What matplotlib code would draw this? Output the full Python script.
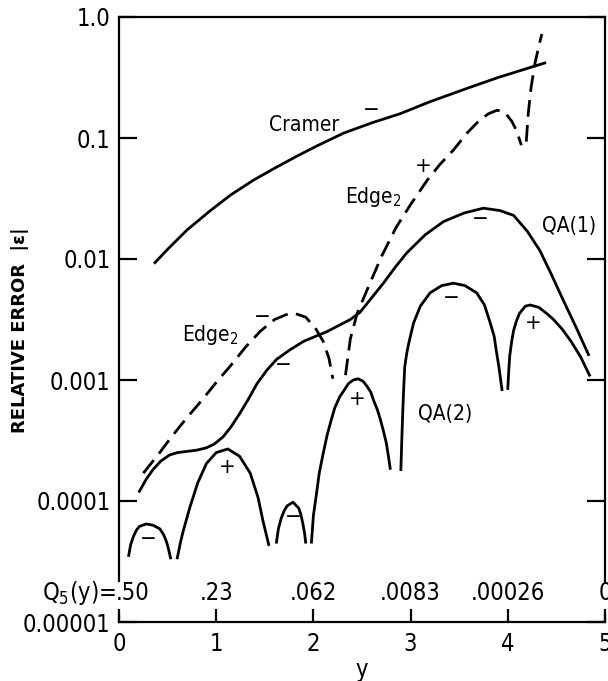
import numpy as np
import matplotlib
matplotlib.use('Agg')
import matplotlib.pyplot as plt
from matplotlib.ticker import NullLocator
import matplotlib.transforms as mtransforms

plt.rcParams['font.family'] = ['DejaVu Sans']
plt.rcParams['font.stretch'] = 'condensed'
plt.rcParams['mathtext.default'] = 'regular'
plt.rcParams['lines.scale_dashes'] = False

# values, y given as log10 |error|
cramer_x = [0.37, 0.50, 0.70, 0.94, 1.15, 1.38, 1.60, 1.83, 2.05, 2.31, 2.60, 2.89, 3.20, 3.58, 3.90, 4.26, 4.38]
cramer_lg = [-2.03, -1.92, -1.76, -1.60, -1.47, -1.35, -1.25, -1.15, -1.06, -0.96, -0.875, -0.80, -0.70, -0.59, -0.50, -0.41, -0.38]

edge_x1 = [0.25, 0.40, 0.55, 0.70, 0.85, 1.00, 1.15, 1.30, 1.45, 1.60, 1.72, 1.81, 1.92, 2.02, 2.10, 2.16, 2.20]
edge_lg1 = [-3.77, -3.62, -3.46, -3.31, -3.17, -3.02, -2.88, -2.73, -2.60, -2.50, -2.46, -2.45, -2.48, -2.57, -2.68, -2.82, -2.99]
edge_x2 = [2.33, 2.38, 2.45, 2.55, 2.70, 2.85, 3.00, 3.17, 3.30, 3.44, 3.58, 3.70, 3.80, 3.89, 3.97, 4.04, 4.09, 4.14]
edge_lg2 = [-2.96, -2.66, -2.45, -2.26, -1.98, -1.74, -1.55, -1.35, -1.22, -1.10, -0.96, -0.86, -0.80, -0.77, -0.79, -0.86, -0.94, -1.06]
edge_x3 = [4.19, 4.21, 4.24, 4.28, 4.32, 4.35]
edge_lg3 = [-1.03, -0.80, -0.58, -0.38, -0.24, -0.14]

qa1_x = [0.21, 0.28, 0.35, 0.43, 0.52, 0.60, 0.70, 0.80, 0.90, 0.98, 1.07, 1.15, 1.24, 1.33, 1.42, 1.52, 1.62,
         1.76, 1.90, 2.02, 2.14, 2.26, 2.38, 2.48, 2.60, 2.72, 2.84, 2.96, 3.15,
         3.34, 3.55, 3.75, 3.92, 4.06, 4.20, 4.33, 4.45, 4.57, 4.70, 4.83]
qa1_lg = [-3.92, -3.82, -3.74, -3.67, -3.62, -3.60, -3.59, -3.58, -3.56, -3.53, -3.47, -3.39, -3.28, -3.16, -3.03,
          -2.92, -2.83, -2.75, -2.68, -2.64, -2.60, -2.55, -2.50, -2.44, -2.32, -2.20, -2.07, -1.95, -1.80,
          -1.69, -1.62, -1.58, -1.60, -1.64, -1.77, -1.93, -2.13, -2.34, -2.56, -2.79]

# QA(2) has sign changes, so it comes in separate lobes
qa2_lobes = [
    ([0.10, 0.12, 0.15, 0.18, 0.21, 0.28, 0.35, 0.42, 0.46, 0.49, 0.51, 0.53],
     [-4.45, -4.36, -4.29, -4.24, -4.21, -4.19, -4.20, -4.23, -4.28, -4.34, -4.40, -4.47]),
    ([0.60, 0.63, 0.66, 0.73, 0.81, 0.90, 1.00, 1.12, 1.24, 1.35, 1.43, 1.48, 1.51, 1.54],
     [-4.47, -4.35, -4.25, -4.05, -3.85, -3.69, -3.60, -3.57, -3.63, -3.77, -3.97, -4.16, -4.26, -4.36]),
    ([1.62, 1.64, 1.67, 1.70, 1.73, 1.79, 1.85, 1.87, 1.89, 1.91, 1.92],
     [-4.34, -4.23, -4.14, -4.08, -4.04, -4.01, -4.06, -4.11, -4.18, -4.27, -4.34]),
    ([1.98, 2.00, 2.03, 2.06, 2.10, 2.14, 2.18, 2.22, 2.27, 2.32, 2.36, 2.41, 2.46, 2.51, 2.55, 2.59, 2.62,
      2.66, 2.69, 2.72, 2.75, 2.77, 2.79],
     [-4.34, -4.12, -3.95, -3.77, -3.61, -3.46, -3.34, -3.23, -3.14, -3.08, -3.03, -3.00, -2.99, -3.01, -3.05,
      -3.10, -3.17, -3.25, -3.33, -3.42, -3.52, -3.62, -3.73]),
    ([2.90, 2.91, 2.92, 2.93, 2.94, 2.96, 2.98, 3.03, 3.10, 3.20, 3.32, 3.44, 3.56, 3.68, 3.76, 3.82, 3.86,
      3.88, 3.91, 3.94],
     [-3.74, -3.48, -3.25, -3.05, -2.89, -2.78, -2.70, -2.53, -2.39, -2.28, -2.22, -2.20, -2.22, -2.28, -2.38,
      -2.53, -2.64, -2.75, -2.90, -3.08]),
    ([4.00, 4.01, 4.02, 4.04, 4.06, 4.09, 4.12, 4.18, 4.23, 4.32, 4.40, 4.47, 4.56, 4.65, 4.75, 4.84],
     [-3.07, -2.92, -2.80, -2.68, -2.59, -2.51, -2.45, -2.39, -2.38, -2.40, -2.45, -2.50, -2.58, -2.68, -2.81,
      -2.96]),
]

# sign marks (x, log10 y, sign)
signs = [(2.60, -0.77, '−'), (3.13, -1.23, '+'), (3.72, -1.67, '−'), (1.47, -2.48, '−'),
         (1.69, -2.88, '−'), (1.11, -3.72, '+'), (0.30, -4.31, '−'), (1.79, -4.13, '−'),
         (2.45, -3.16, '+'), (3.42, -2.32, '−'), (4.26, -2.53, '+')]

# curve names (x, log10 y, text)
names = [(1.54, -0.89, 'Cramer'), (2.33, -1.49, 'Edge$_2$'), (4.35, -1.73, 'QA(1)'),
         (0.645, -2.63, 'Edge$_2$'), (3.08, -3.28, 'QA(2)')]

q5_x = [1, 2, 3, 4, 5]
q5_labels = ['.23', '.062', '.0083', '.00026', '0']

ytick_vals = [1.0, 0.1, 0.01, 0.001, 0.0001, 0.00001]
ytick_labels = ['1.0', '0.1', '0.01', '0.001', '0.0001', '0.00001']

fig = plt.figure(figsize=(6.08, 6.81), dpi=100)
ax = fig.add_axes([119 / 608, 59 / 681, 486 / 608, 605 / 681])
ax.set_yscale('log')
ax.set_xlim(0, 5)
ax.set_ylim(1e-5, 1.0)

lw = 2.0
ax.plot(cramer_x, 10 ** np.array(cramer_lg), color='k', lw=lw)
for ex, el in [(edge_x1, edge_lg1), (edge_x2, edge_lg2), (edge_x3, edge_lg3)]:
    ax.plot(ex, 10 ** np.array(el), color='k', lw=lw, dashes=(12, 6))
ax.plot(qa1_x, 10 ** np.array(qa1_lg), color='k', lw=lw)
for lx, ll in qa2_lobes:
    ax.plot(lx, 10 ** np.array(ll), color='k', lw=lw)

for sx, sl, s in signs:
    ax.text(sx, 10 ** sl, s, ha='center', va='center', fontsize=16)
for nx, nl, t in names:
    ax.text(nx, 10 ** nl, t, ha='left', va='center', fontsize=15)

# spines
for side in ['top', 'bottom', 'left', 'right']:
    ax.spines[side].set_linewidth(1.6)
ax.spines['left'].set_bounds(2.2e-5, 1.0)
ax.spines['right'].set_bounds(2.2e-5, 1.0)
ax.axvline(0, ymin=0, ymax=0.012, color='k', lw=1.6, clip_on=False)
ax.axvline(5, ymin=0, ymax=0.012, color='k', lw=1.6, clip_on=False)

ax.yaxis.set_minor_locator(NullLocator())
ax.set_yticks(ytick_vals)
ax.set_yticklabels(ytick_labels)
ax.set_xticks([0, 1, 2, 3, 4, 5])
ax.set_xticklabels(['0', '1', '2', '3', '4', '5'])
ax.tick_params(axis='y', direction='in', length=13, width=1.6, right=True, left=True, pad=6, labelsize=17)
ax.tick_params(axis='x', direction='in', length=9.5, width=1.6, top=False, pad=7, labelsize=17)

# Q5(y) row
trans = mtransforms.blended_transform_factory(ax.transData, ax.transAxes)
ax.text(-0.03, 0.048, 'Q$_5$(y)=', transform=trans, ha='right', va='center', fontsize=17, clip_on=False)
ax.text(-0.03, 0.048, '.50', transform=trans, ha='left', va='center', fontsize=17, clip_on=False)
for qx, ql in zip(q5_x, q5_labels):
    ax.text(qx, 0.048, ql, transform=trans, ha='center', va='center', fontsize=17, clip_on=False)

ax.set_xlabel('y', fontsize=17, labelpad=2)
fig.text(20 / 608, 1 - 330 / 681, 'RELATIVE ERROR  |ε|', rotation=90, ha='center', va='center',
         fontsize=13, fontweight='bold', stretch='normal')

fig.savefig('out.png', dpi=100)
